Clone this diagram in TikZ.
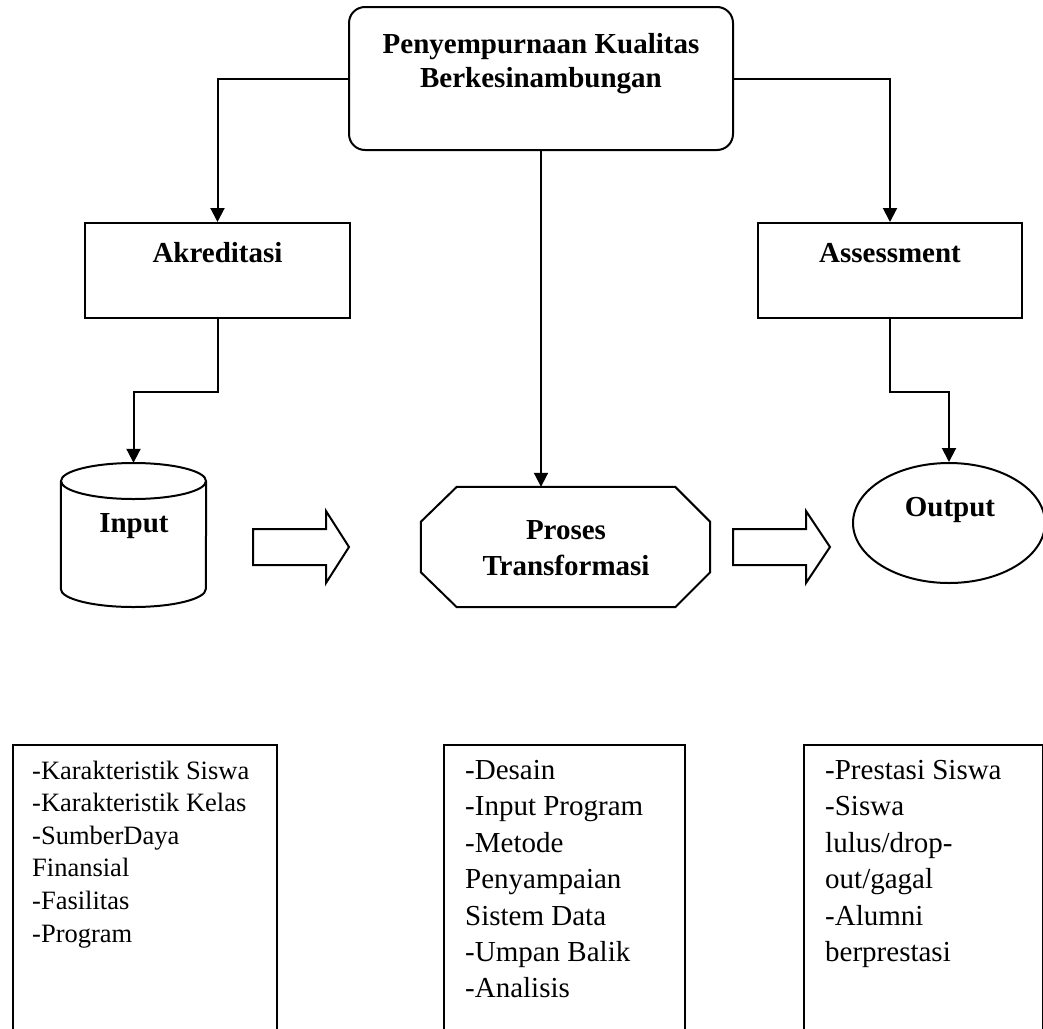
\documentclass[tikz,border=0pt]{standalone}
\usepackage{fontspec}
\setmainfont{Liberation Serif}
\usetikzlibrary{arrows.meta,shapes.geometric}

\begin{document}
\begin{tikzpicture}[x=1pt,y=-1pt,
  garis/.style={black,line width=2pt,line join=miter},
  panah/.style={garis,-{Triangle[length=14pt,width=14pt]}},
  judul/.style={font=\fontsize{29}{34}\selectfont\bfseries,inner sep=0pt},
  kotak/.style={draw,line width=2pt,inner sep=0pt},
  wadah/.style={inner sep=0pt},
  isi/.style={align=left,inner sep=0pt,anchor=north west}]
\useasboundingbox (0,0) rectangle (1043,1028);

\node[kotak,rounded corners=16pt,minimum width=384pt,minimum height=143pt] (atas) at (541,78.5) {};
\node[judul,align=center,anchor=north] (atasT) at (541,33.4) {Penyempurnaan Kualitas\\Berkesinambungan};

\node[kotak,minimum width=265pt,minimum height=95pt] (akr) at (217.5,270.5) {};
\node[judul,anchor=base] (akrT) at (217.5,262) {Akreditasi};
\node[kotak,minimum width=264pt,minimum height=95pt] (asm) at (890,270.5) {};
\node[judul,anchor=base] (asmT) at (890,262) {Assessment};

% tabung input
\node[wadah,minimum width=145pt,minimum height=144pt] (inp) at (133.5,535) {};
\draw[garis] (inp.center |- 0,481) ellipse [x radius=72.5pt,y radius=18pt];
\draw[garis] (inp.west |- 0,481) -- (inp.west |- 0,589)
  arc [start angle=180,end angle=360,x radius=72.5pt,y radius=18pt] -- (inp.east |- 0,481);
\node[judul,anchor=base] (inpT) at (134,532) {Input};

% segi delapan proses
\node[wadah,minimum width=289pt,minimum height=120pt] (proses) at (565.5,547) {};
\draw[garis] ([xshift=36pt]proses.north west) -- ([xshift=-35pt]proses.north east)
  -- ([yshift=-35pt]proses.north east) -- ([yshift=35pt]proses.south east)
  -- ([xshift=-35pt]proses.south east) -- ([xshift=36pt]proses.south west)
  -- ([yshift=35pt]proses.south west) -- ([yshift=-35pt]proses.north west) -- cycle;
\node[judul,align=center,font=\fontsize{29}{36}\selectfont\bfseries,anchor=north] (prosesT) at (566,520.4) {Proses\\Transformasi};

\node[kotak,ellipse,minimum width=192pt,minimum height=120pt] (out) at (949,523) {};
\node[judul,anchor=base] (outT) at (950,516) {Output};

% panah blok
\draw[garis] (253,529) -- (326,529) -- (326,511) -- (349,547) -- (326,583) -- (326,565) -- (253,565) -- cycle;
\draw[garis] (733,529) -- (806,529) -- (806,511) -- (830,547) -- (806,583) -- (806,565) -- (733,565) -- cycle;

\draw[panah] (atas.west) -| (akr.north);
\draw[panah] (atas.east) -| (asm.north);
\draw[panah] (atas.south) -- (atas.south |- proses.north);
\draw[panah] (akr.south) -- ++(0,73) -| (inp.north);
\draw[panah] (asm.south) -- ++(0,73) -| (out.north);

% kotak keterangan bawah
\node[kotak,anchor=north west,minimum width=264pt,minimum height=320pt] (kotakA) at (12,744) {};
\node[kotak,anchor=north west,minimum width=241pt,minimum height=320pt] (kotakB) at (443,744) {};
\node[kotak,anchor=north west,minimum width=239pt,minimum height=320pt] (kotakC) at (803,744) {};
\node[isi,font=\fontsize{26.5}{32.6}\selectfont] (isiA) at (32,760.5) {-Karakteristik Siswa\\-Karakteristik Kelas\\-SumberDaya\\Finansial\\-Fasilitas\\-Program};
\node[isi,font=\fontsize{29}{36.4}\selectfont] (isiB) at (465,760) {-Desain\\-Input Program\\-Metode\\Penyampaian\\Sistem Data\\-Umpan Balik\\-Analisis};
\node[isi,font=\fontsize{29}{36.4}\selectfont] (isiC) at (825,760) {-Prestasi Siswa\\-Siswa\\lulus/drop-\\out/gagal\\-Alumni\\berprestasi};
\end{tikzpicture}
\end{document}
